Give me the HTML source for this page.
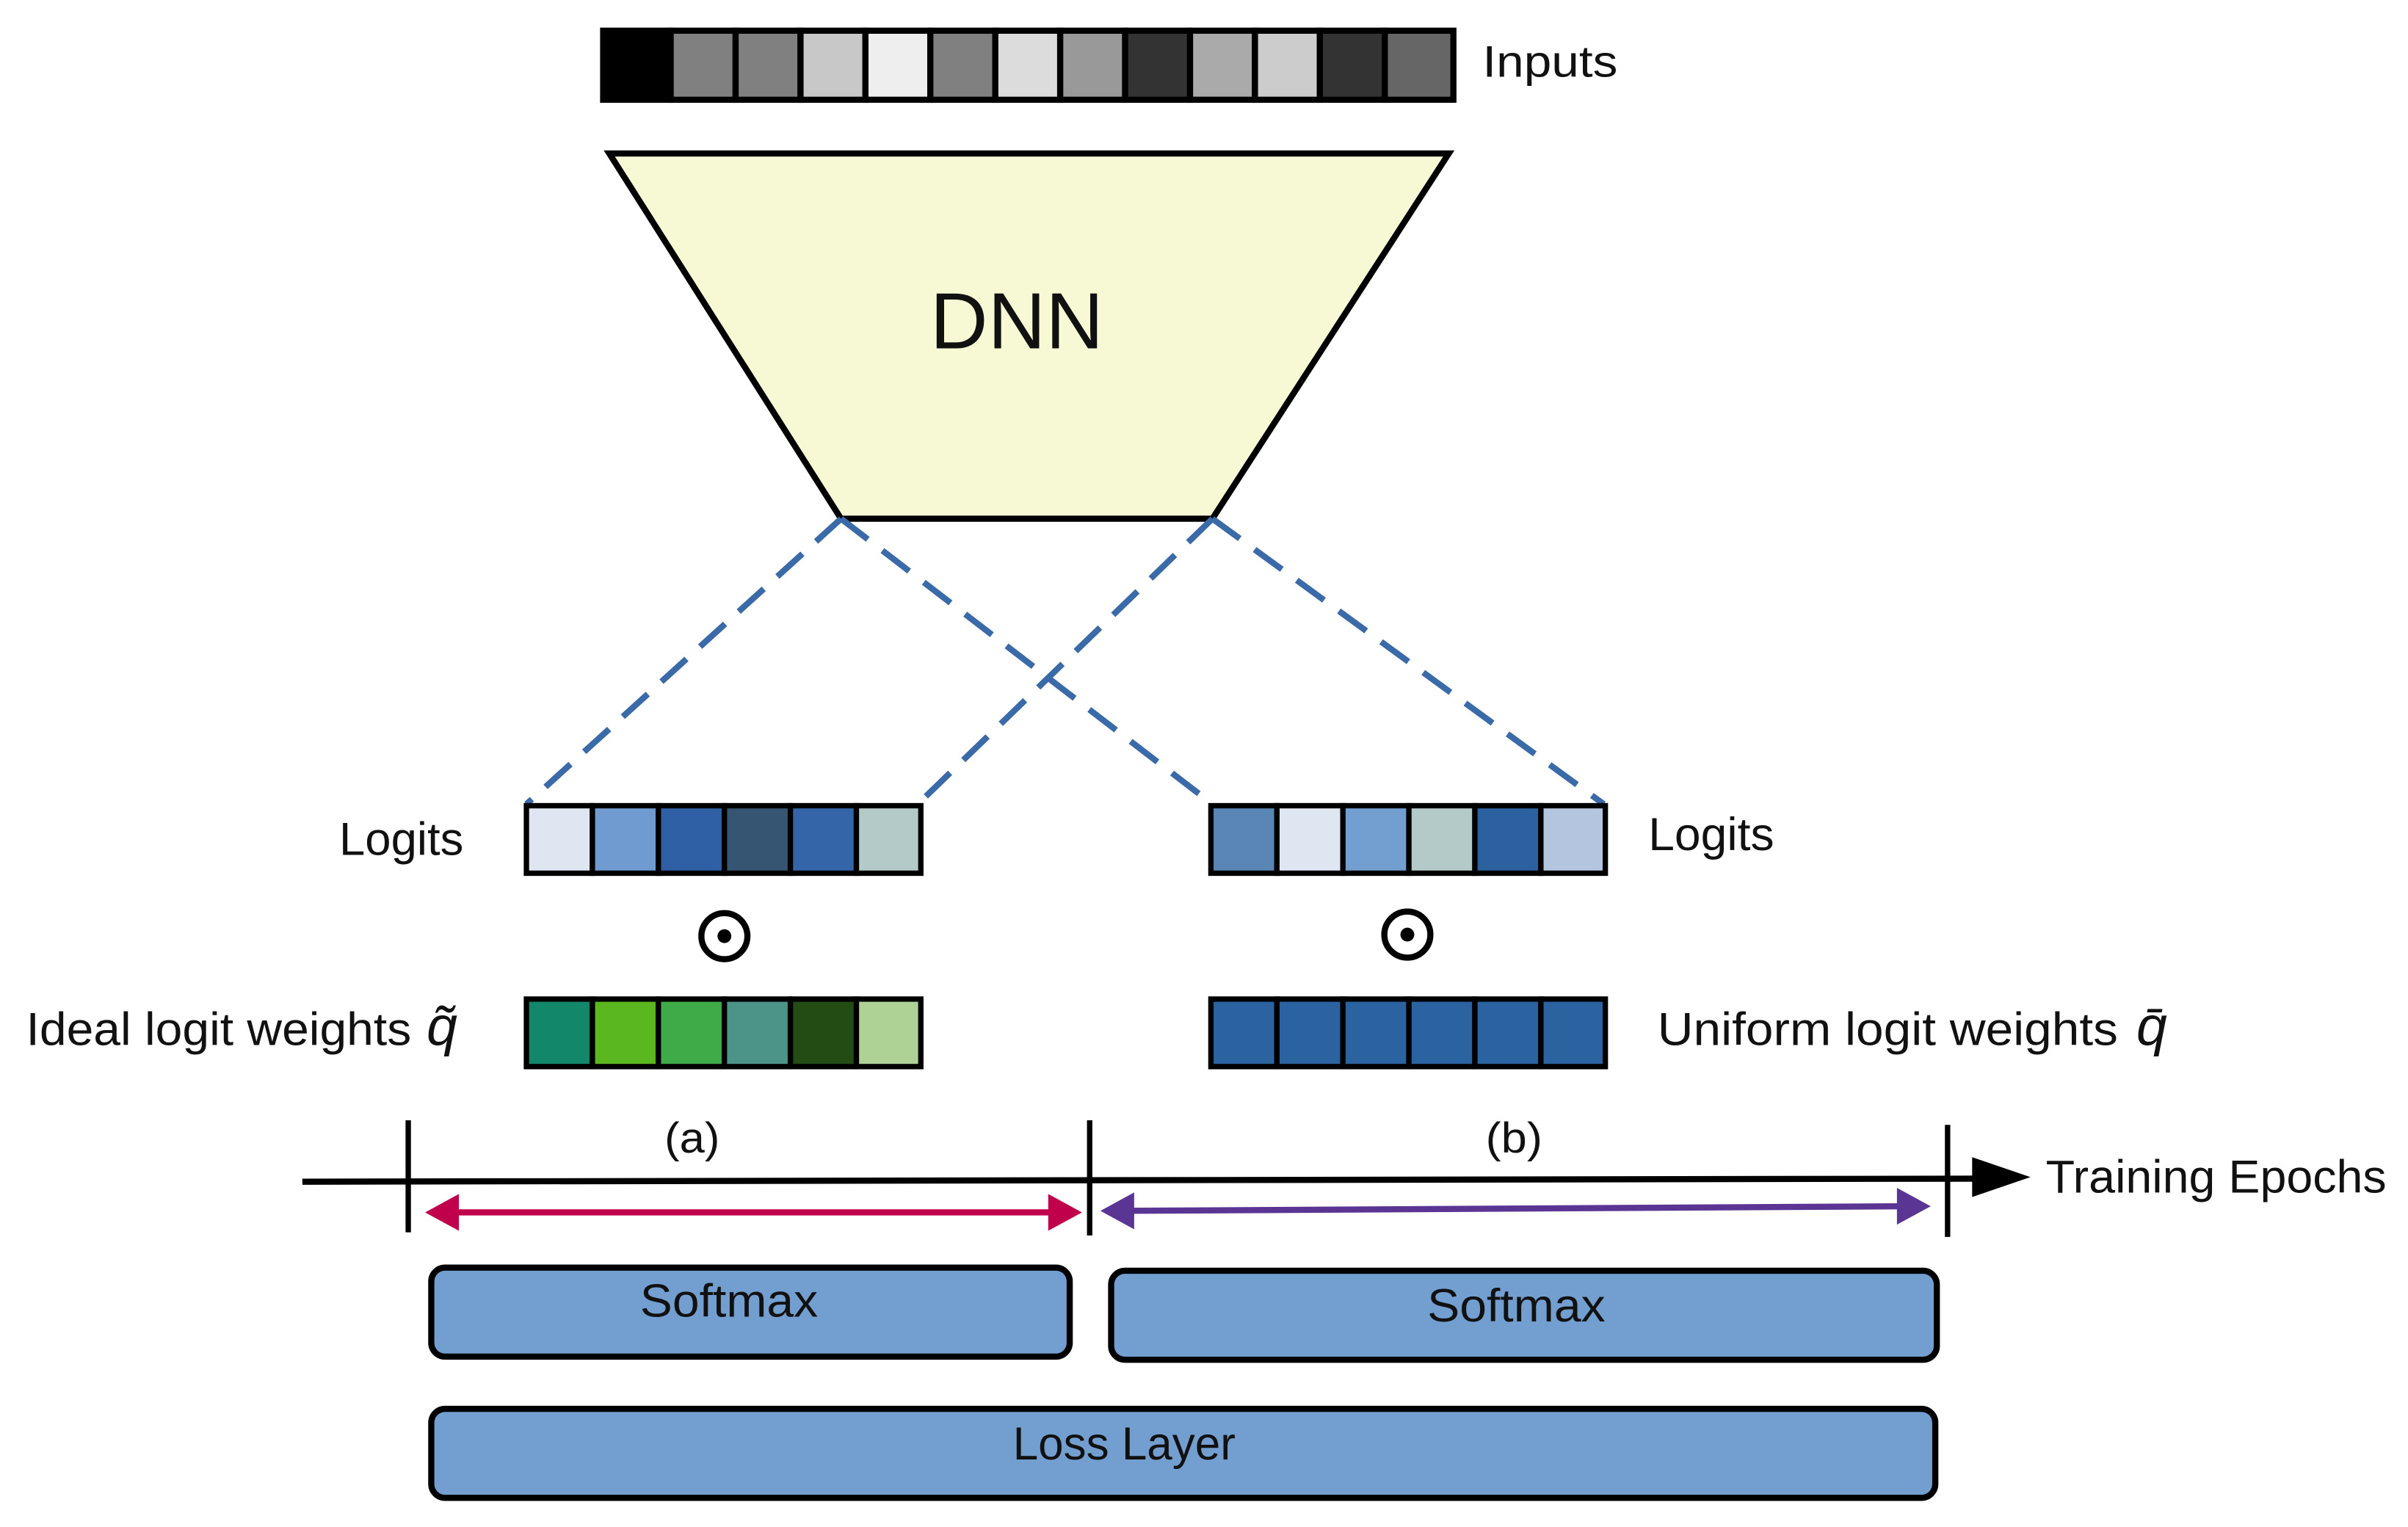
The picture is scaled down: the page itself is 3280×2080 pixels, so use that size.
<!DOCTYPE html>
<html><head><meta charset="utf-8"><style>html,body{margin:0;padding:0;background:#fff}svg{display:block}text{font-family:"Liberation Sans",sans-serif;fill:#111}</style></head>
<body>
<svg width="3280" height="2080" viewBox="0 0 1569 995" preserveAspectRatio="none" xmlns="http://www.w3.org/2000/svg">
<g stroke="#000" stroke-width="4">
<rect x="393" y="20" width="44" height="45" fill="#000"/>
<rect x="437" y="20" width="42.3" height="45" fill="#808080"/>
<rect x="479.3" y="20" width="42.3" height="45" fill="#808080"/>
<rect x="521.6" y="20" width="42.3" height="45" fill="#c8c8c8"/>
<rect x="563.9" y="20" width="42.3" height="45" fill="#eeeeee"/>
<rect x="606.2" y="20" width="42.3" height="45" fill="#808080"/>
<rect x="648.5" y="20" width="42.3" height="45" fill="#dcdcdc"/>
<rect x="690.8" y="20" width="42.3" height="45" fill="#999999"/>
<rect x="733.1" y="20" width="42.3" height="45" fill="#333333"/>
<rect x="775.4" y="20" width="42.3" height="45" fill="#aaaaaa"/>
<rect x="817.7" y="20" width="42.3" height="45" fill="#cccccc"/>
<rect x="860" y="20" width="42.3" height="45" fill="#333333"/>
<rect x="902.3" y="20" width="44.7" height="45" fill="#666666"/>
</g>
<text x="966" y="50" font-size="29" textLength="88" lengthAdjust="spacingAndGlyphs">Inputs</text>
<polygon points="397,100 944,100 790,338 548,338" fill="#f7f9d4" stroke="#000" stroke-width="4"/>
<text x="606" y="227" font-size="52" textLength="113" lengthAdjust="spacingAndGlyphs">DNN</text>
<g stroke="#3b6aa8" stroke-width="4" stroke-dasharray="22 12" fill="none">
<line x1="548" y1="338" x2="343" y2="524"/>
<line x1="548" y1="338" x2="790" y2="524"/>
<line x1="790" y1="338" x2="598" y2="524"/>
<line x1="790" y1="338" x2="1045" y2="524"/>
</g>
<g stroke="#000" stroke-width="3.5">
<rect x="343" y="525" width="43" height="44" fill="#dfe6f1"/>
<rect x="386" y="525" width="43" height="44" fill="#6f9bd0"/>
<rect x="429" y="525" width="43" height="44" fill="#2f5fa5"/>
<rect x="472" y="525" width="43" height="44" fill="#365572"/>
<rect x="515" y="525" width="43" height="44" fill="#3465a8"/>
<rect x="558" y="525" width="42" height="44" fill="#b4cac8"/>
<rect x="789" y="525" width="43" height="44" fill="#5a86b6"/>
<rect x="832" y="525" width="43" height="44" fill="#dee6f1"/>
<rect x="875" y="525" width="43" height="44" fill="#739ed0"/>
<rect x="918" y="525" width="43" height="44" fill="#b4cac8"/>
<rect x="961" y="525" width="43" height="44" fill="#2a619e"/>
<rect x="1004" y="525" width="42" height="44" fill="#b4c6df"/>
<rect x="343" y="651" width="43" height="44" fill="#13876a"/>
<rect x="386" y="651" width="43" height="44" fill="#5bb720"/>
<rect x="429" y="651" width="43" height="44" fill="#3fab48"/>
<rect x="472" y="651" width="43" height="44" fill="#4c9488"/>
<rect x="515" y="651" width="43" height="44" fill="#224c14"/>
<rect x="558" y="651" width="42" height="44" fill="#aed196"/>
<rect x="789" y="651" width="43" height="44" fill="#2b62a0"/>
<rect x="832" y="651" width="43" height="44" fill="#2b62a0"/>
<rect x="875" y="651" width="43" height="44" fill="#2b62a0"/>
<rect x="918" y="651" width="43" height="44" fill="#2b62a0"/>
<rect x="961" y="651" width="43" height="44" fill="#2b62a0"/>
<rect x="1004" y="651" width="42" height="44" fill="#2b62a0"/>
</g>
<text x="221" y="557" font-size="30" textLength="81" lengthAdjust="spacingAndGlyphs">Logits</text>
<text x="1074" y="554" font-size="30" textLength="82" lengthAdjust="spacingAndGlyphs">Logits</text>
<g stroke="#000" stroke-width="4" fill="none"><circle cx="472" cy="610" r="15"/><circle cx="917" cy="609" r="15"/></g>
<circle cx="472" cy="610" r="4.5"/><circle cx="917" cy="609" r="4.5"/>
<text x="17" y="681" font-size="30" textLength="251" lengthAdjust="spacingAndGlyphs">Ideal logit weights</text>
<text x="278" y="681" font-size="36" font-family="Liberation Serif" font-style="italic">q̃</text>
<text x="1080" y="681" font-size="30" textLength="300" lengthAdjust="spacingAndGlyphs">Uniform logit weights</text>
<text x="1392" y="681" font-size="36" font-family="Liberation Serif" font-style="italic">q̄</text>
<line x1="197" y1="770" x2="1290" y2="768" stroke="#000" stroke-width="4"/>
<polygon points="1285,754 1323,767 1285,780" fill="#000"/>
<g stroke="#000" stroke-width="3.5">
<line x1="266" y1="730" x2="266" y2="803"/>
<line x1="710" y1="730" x2="710" y2="805"/>
<line x1="1269" y1="733" x2="1269" y2="806"/>
</g>
<text x="433" y="751" font-size="28" textLength="36" lengthAdjust="spacingAndGlyphs">(a)</text>
<text x="968" y="751" font-size="28" textLength="37" lengthAdjust="spacingAndGlyphs">(b)</text>
<text x="1333" y="777" font-size="30" textLength="222" lengthAdjust="spacingAndGlyphs">Training Epochs</text>
<line x1="290" y1="790" x2="692" y2="790" stroke="#c0004a" stroke-width="4"/>
<polygon points="277,790 299,778 299,802" fill="#c0004a"/>
<polygon points="705,790 683,778 683,802" fill="#c0004a"/>
<line x1="730" y1="789" x2="1245" y2="786" stroke="#5b3593" stroke-width="4"/>
<polygon points="717,789 739,777 739,801" fill="#5b3593"/>
<polygon points="1258,786 1236,774 1236,798" fill="#5b3593"/>
<g fill="#729fcf" stroke="#000" stroke-width="4">
<rect x="281" y="826" width="416" height="58" rx="9"/>
<rect x="724" y="828" width="538" height="58" rx="9"/>
<rect x="281" y="918" width="980" height="58" rx="9"/>
</g>
<text x="417" y="858" font-size="30" textLength="116" lengthAdjust="spacingAndGlyphs">Softmax</text>
<text x="930" y="861" font-size="30" textLength="116" lengthAdjust="spacingAndGlyphs">Softmax</text>
<text x="660" y="951" font-size="30" textLength="145" lengthAdjust="spacingAndGlyphs">Loss Layer</text>
</svg>
</body></html>
